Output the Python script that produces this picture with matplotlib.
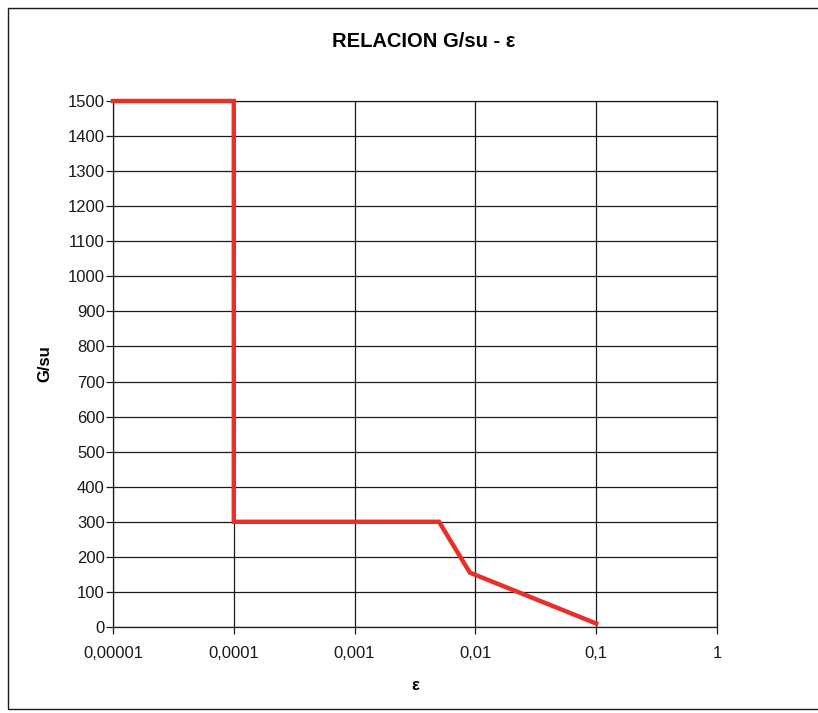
import matplotlib
matplotlib.use("Agg")
import matplotlib.pyplot as plt
from matplotlib.patches import Rectangle
from matplotlib.ticker import FixedLocator, NullLocator

plt.rcParams['font.family'] = ['Liberation Sans', 'DejaVu Sans']

# Strain (epsilon) and shear modulus ratio G/su
strain = [0.00001, 0.0001, 0.0001, 0.005, 0.009, 0.1]
g_su = [1500, 1500, 300, 300, 155, 10]

x_ticks = [0.00001, 0.0001, 0.001, 0.01, 0.1, 1]
x_tick_labels = ["0,00001", "0,0001", "0,001", "0,01", "0,1", "1"]
y_ticks = list(range(0, 1501, 100))

fig = plt.figure(figsize=(8.18, 7.13), dpi=100)
fig.patch.set_facecolor("white")

# Outer chart frame
fig.patches.append(Rectangle((8 / 818, 1 - 709 / 713), 1.0, (709 - 8) / 713,
                             transform=fig.transFigure, fill=False,
                             edgecolor="#1a1a1a", linewidth=1.0))

ax = fig.add_axes([113 / 818, 1 - 627 / 713, (717 - 113) / 818, (627 - 101) / 713])
ax.set_xscale("log")
ax.set_xlim(1e-5, 1)
ax.set_ylim(0, 1500)

ax.xaxis.set_major_locator(FixedLocator(x_ticks))
ax.xaxis.set_minor_locator(NullLocator())
ax.set_xticks(x_ticks)
ax.set_xticklabels(x_tick_labels)
ax.set_yticks(y_ticks)

ax.grid(True, which="major", color="#1a1a1a", linewidth=0.9)
ax.set_axisbelow(True)
for s in ax.spines.values():
    s.set_color("#1a1a1a")
    s.set_linewidth(0.9)

ax.tick_params(axis="both", direction="out", length=5, width=0.9,
               labelsize=12, colors="#1a1a1a")
ax.tick_params(axis="x", pad=9)
ax.tick_params(axis="y", pad=1)

ax.plot(strain, g_su, color="#e8302a", linewidth=3.2, solid_joinstyle="miter",
        clip_on=False, zorder=3)

fig.text(424 / 818, 1 - 47 / 713, "RELACION G/su - ε", ha="center", va="baseline",
         fontsize=14.5, fontweight="bold")
ax.set_xlabel("ε", fontsize=12, fontweight="bold", labelpad=12)
ax.set_ylabel("G/su", fontsize=12, fontweight="bold", va="center")
ax.yaxis.set_label_coords((45 - 113) / 604, 0.5)

fig.savefig("out.png", dpi=100)
